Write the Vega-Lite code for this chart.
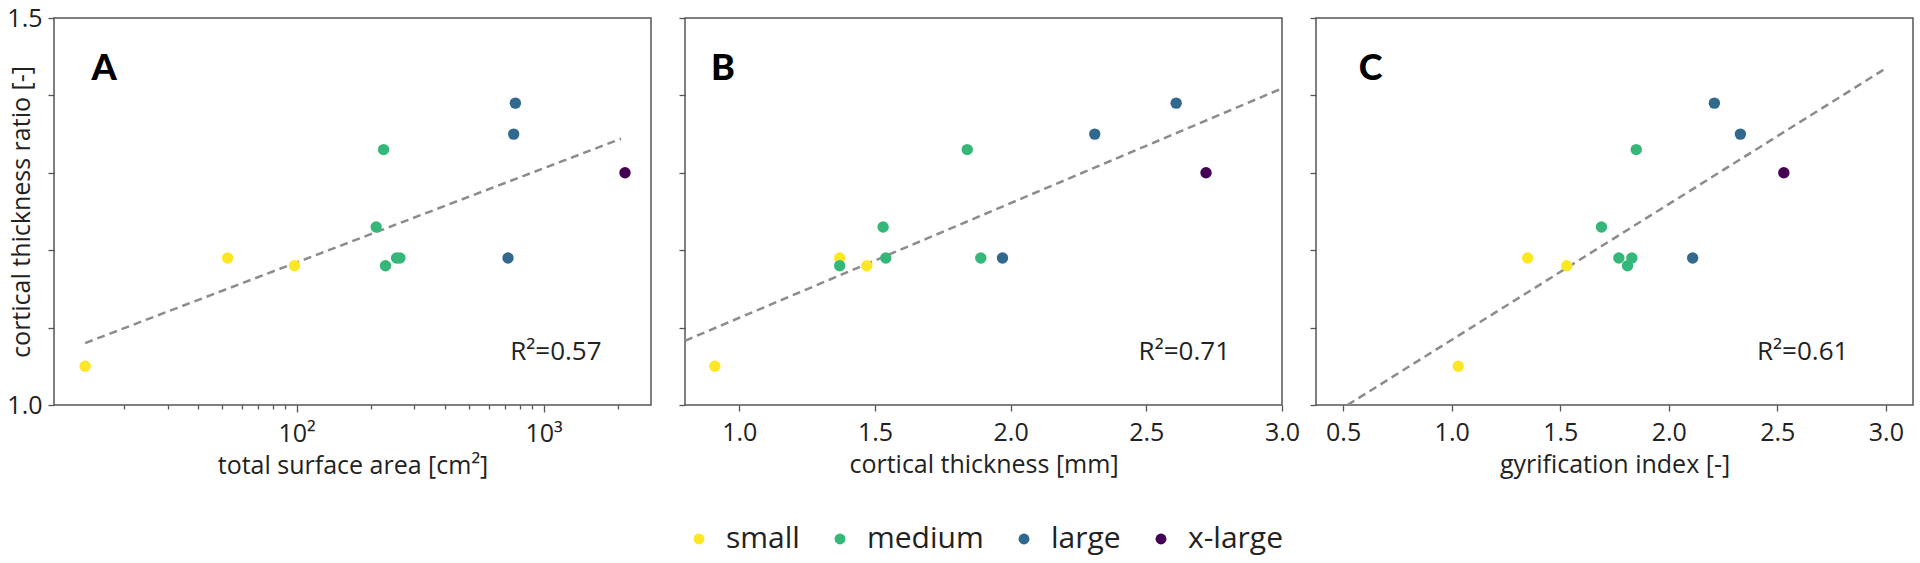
{
  "$schema": "https://vega.github.io/schema/vega-lite/v6.json",
  "background": "white",
  "padding": {"left": 6, "top": 5, "right": 5, "bottom": 3},
  "spacing": 34,
  "bounds": "flush",
  "resolve": {"legend": {"color": "independent"}},
  "datasets": {
    "subjects": [
      {"id": "Y1", "size": "small", "area": 13.9, "thickness": 0.91, "gi": 1.03, "ratio": 1.05},
      {"id": "Y2", "size": "small", "area": 52.5, "thickness": 1.37, "gi": 1.35, "ratio": 1.19},
      {"id": "Y3", "size": "small", "area": 98, "thickness": 1.47, "gi": 1.53, "ratio": 1.18},
      {"id": "G1", "size": "medium", "area": 210, "thickness": 1.53, "gi": 1.69, "ratio": 1.23},
      {"id": "G2", "size": "medium", "area": 225, "thickness": 1.84, "gi": 1.85, "ratio": 1.33},
      {"id": "G3", "size": "medium", "area": 229, "thickness": 1.37, "gi": 1.81, "ratio": 1.18},
      {"id": "G4", "size": "medium", "area": 254, "thickness": 1.54, "gi": 1.77, "ratio": 1.19},
      {"id": "G5", "size": "medium", "area": 262, "thickness": 1.89, "gi": 1.83, "ratio": 1.19},
      {"id": "L1", "size": "large", "area": 769, "thickness": 2.61, "gi": 2.21, "ratio": 1.39},
      {"id": "L2", "size": "large", "area": 757, "thickness": 2.31, "gi": 2.33, "ratio": 1.35},
      {"id": "L3", "size": "large", "area": 718, "thickness": 1.97, "gi": 2.11, "ratio": 1.19},
      {"id": "X1", "size": "x-large", "area": 2138, "thickness": 2.72, "gi": 2.53, "ratio": 1.30}
    ],
    "fits": [
      {"panel": "A", "x": 13.9, "y": 1.080},
      {"panel": "A", "x": 2060, "y": 1.344},
      {"panel": "B", "x": 0.8, "y": 1.083},
      {"panel": "B", "x": 3.0, "y": 1.409},
      {"panel": "C", "x": 0.52, "y": 1.0},
      {"panel": "C", "x": 3.0, "y": 1.435}
    ]
  },
  "config": {
    "font": "Open Sans",
    "view": {"stroke": "#555555", "strokeWidth": 1.5},
    "axis": {
      "grid": false,
      "domain": false,
      "tickColor": "#555555",
      "tickWidth": 1.3,
      "tickSize": 6,
      "labelFont": "Open Sans",
      "labelFontSize": 25,
      "labelColor": "#222222",
      "labelPadding": 6,
      "labelFlush": false,
      "labelOverlap": false,
      "titleFont": "Open Sans",
      "titleFontSize": 25,
      "titleFontWeight": "normal",
      "titleColor": "#222222",
      "titlePadding": 4
    },
    "axisX": {"labelPadding": 9, "titlePadding": 7},
    "legend": {
      "layout": {"bottom": {"anchor": "middle"}}
    }
  },
  "hconcat": [
    {
      "width": 597,
      "height": 387,
      "layer": [
        {
          "data": {"name": "fits"},
          "transform": [{"filter": "datum.panel == 'A'"}],
          "mark": {"type": "line", "strokeDash": [8, 5], "color": "#8c8c8c", "strokeWidth": 2.5, "clip": true},
          "encoding": {
            "x": {
              "field": "x", "type": "quantitative",
              "scale": {"type": "log", "domain": [10.4, 2725], "nice": false},
              "axis": {
                "title": "total surface area [cm²]",
                "values": [20, 30, 40, 50, 60, 70, 80, 90, 100, 200, 300, 400, 500, 600, 700, 800, 900, 1000, 2000],
                "labelExpr": "datum.value == 100 ? '10²' : (datum.value == 1000 ? '10³' : '')",
                "tickSize": {"condition": {"test": "datum.value == 100 || datum.value == 1000", "value": 7}, "value": 4}
              }
            },
            "y": {
              "field": "y", "type": "quantitative",
              "scale": {"domain": [1.0, 1.5], "nice": false, "zero": false},
              "axis": {
                "title": "cortical thickness ratio [-]",
                "titleFontSize": 25,
                "titleBaseline": "middle",
                "values": [1.0, 1.1, 1.2, 1.3, 1.4, 1.5],
                "labelExpr": "(datum.value == 1 || datum.value == 1.5) ? format(datum.value, '.1f') : ''",
                "titleX": -33
              }
            }
          }
        },
        {
          "data": {"name": "subjects"},
          "mark": {"type": "circle", "size": 130, "opacity": 1},
          "encoding": {
            "x": {"field": "area", "type": "quantitative"},
            "y": {"field": "ratio", "type": "quantitative"},
            "color": {
              "field": "size", "type": "nominal",
              "scale": {"domain": ["small", "medium", "large", "x-large"], "range": ["#fde725", "#35b779", "#31688e", "#440154"]},
              "legend": null
            }
          }
        },
        {
          "data": {"values": [{}]},
          "mark": {"type": "text", "text": "A", "font": "Lato", "fontWeight": 900, "fontSize": 36, "color": "black", "align": "center", "baseline": "middle"},
          "encoding": {"x": {"datum": 16.6}, "y": {"datum": 1.4345}}
        },
        {
          "data": {"values": [{}]},
          "mark": {"type": "text", "text": "R²=0.57", "fontSize": 26, "color": "#222222", "align": "center", "baseline": "middle"},
          "encoding": {"x": {"datum": 1122}, "y": {"datum": 1.069}}
        }
      ]
    },
    {
      "width": 597,
      "height": 387,
      "layer": [
        {
          "data": {"name": "fits"},
          "transform": [{"filter": "datum.panel == 'B'"}],
          "mark": {"type": "line", "strokeDash": [8, 5], "color": "#8c8c8c", "strokeWidth": 2.5, "clip": true},
          "encoding": {
            "x": {
              "field": "x", "type": "quantitative",
              "scale": {"domain": [0.8, 3.0], "nice": false, "zero": false},
              "axis": {"title": "cortical thickness [mm]", "values": [1.0, 1.5, 2.0, 2.5, 3.0], "format": ".1f"}
            },
            "y": {
              "field": "y", "type": "quantitative",
              "scale": {"domain": [1.0, 1.5], "nice": false, "zero": false},
              "axis": {"title": null, "labels": false, "values": [1.0, 1.1, 1.2, 1.3, 1.4, 1.5]}
            }
          }
        },
        {
          "data": {"name": "subjects"},
          "mark": {"type": "circle", "size": 130, "opacity": 1},
          "encoding": {
            "x": {"field": "thickness", "type": "quantitative"},
            "y": {"field": "ratio", "type": "quantitative"},
            "color": {
              "field": "size", "type": "nominal",
              "scale": {"domain": ["small", "medium", "large", "x-large"], "range": ["#fde725", "#35b779", "#31688e", "#440154"]},
              "legend": {
                "title": null,
                "orient": "bottom",
                "direction": "horizontal",
                "columns": 4,
                "symbolType": "circle",
                "symbolSize": 120,
                "symbolStrokeWidth": 0,
                "labelFont": "Open Sans",
                "labelFontSize": 30,
                "labelColor": "#222222",
                "labelOffset": 12,
                "columnPadding": 25,
                "offset": 47
              }
            }
          }
        },
        {
          "data": {"values": [{}]},
          "mark": {"type": "text", "text": "B", "font": "Lato", "fontWeight": 900, "fontSize": 36, "color": "black", "align": "center", "baseline": "middle"},
          "encoding": {"x": {"datum": 0.94}, "y": {"datum": 1.4345}}
        },
        {
          "data": {"values": [{}]},
          "mark": {"type": "text", "text": "R²=0.71", "fontSize": 26, "color": "#222222", "align": "center", "baseline": "middle"},
          "encoding": {"x": {"datum": 2.64}, "y": {"datum": 1.069}}
        }
      ]
    },
    {
      "width": 597,
      "height": 387,
      "layer": [
        {
          "data": {"name": "fits"},
          "transform": [{"filter": "datum.panel == 'C'"}],
          "mark": {"type": "line", "strokeDash": [8, 5], "color": "#8c8c8c", "strokeWidth": 2.5, "clip": true},
          "encoding": {
            "x": {
              "field": "x", "type": "quantitative",
              "scale": {"domain": [0.375, 3.125], "nice": false, "zero": false},
              "axis": {"title": "gyrification index [-]", "values": [0.5, 1.0, 1.5, 2.0, 2.5, 3.0], "format": ".1f"}
            },
            "y": {
              "field": "y", "type": "quantitative",
              "scale": {"domain": [1.0, 1.5], "nice": false, "zero": false},
              "axis": {"title": null, "labels": false, "values": [1.0, 1.1, 1.2, 1.3, 1.4, 1.5]}
            }
          }
        },
        {
          "data": {"name": "subjects"},
          "mark": {"type": "circle", "size": 130, "opacity": 1},
          "encoding": {
            "x": {"field": "gi", "type": "quantitative"},
            "y": {"field": "ratio", "type": "quantitative"},
            "color": {
              "field": "size", "type": "nominal",
              "scale": {"domain": ["small", "medium", "large", "x-large"], "range": ["#fde725", "#35b779", "#31688e", "#440154"]},
              "legend": null
            }
          }
        },
        {
          "data": {"values": [{}]},
          "mark": {"type": "text", "text": "C", "font": "Lato", "fontWeight": 900, "fontSize": 36, "color": "black", "align": "center", "baseline": "middle"},
          "encoding": {"x": {"datum": 0.626}, "y": {"datum": 1.4345}}
        },
        {
          "data": {"values": [{}]},
          "mark": {"type": "text", "text": "R²=0.61", "fontSize": 26, "color": "#222222", "align": "center", "baseline": "middle"},
          "encoding": {"x": {"datum": 2.617}, "y": {"datum": 1.069}}
        }
      ]
    }
  ]
}
